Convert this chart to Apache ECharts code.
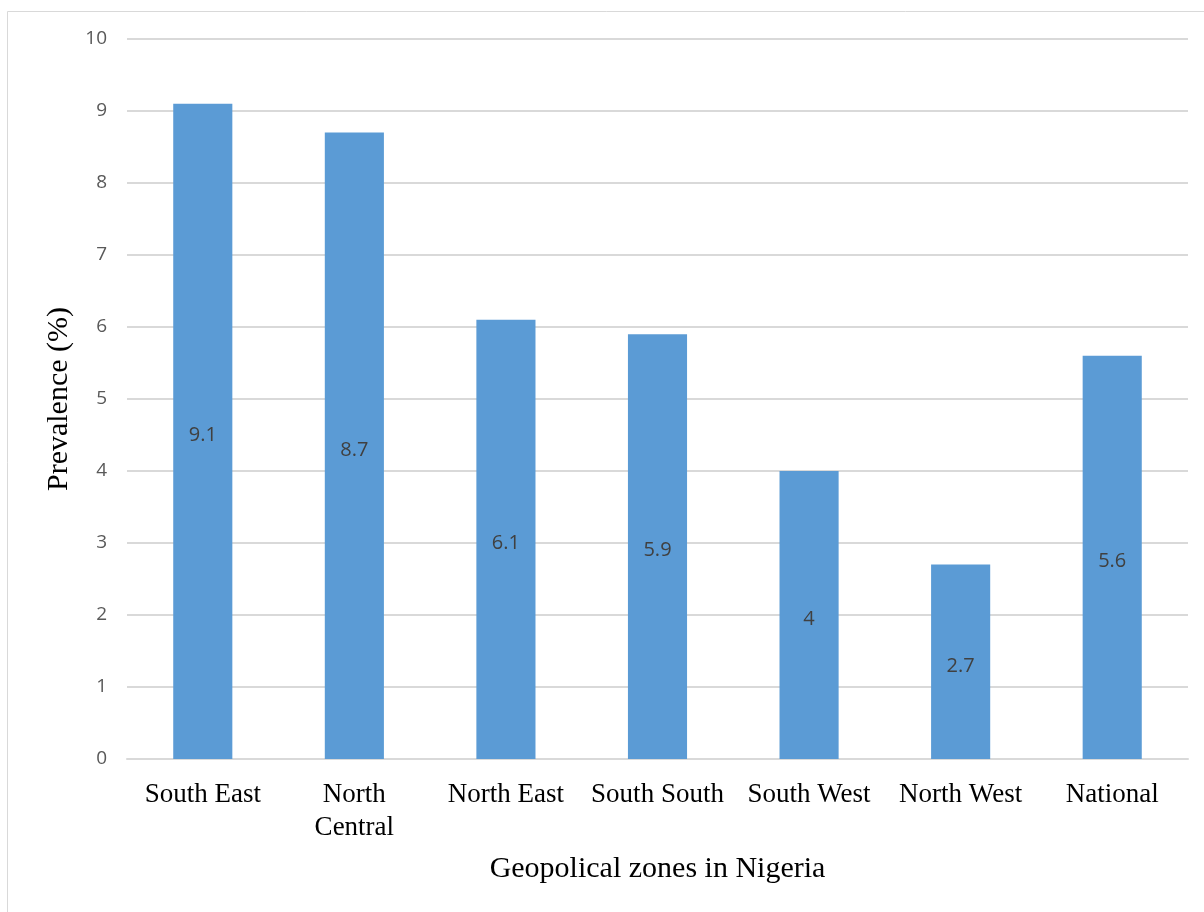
<!DOCTYPE html>
<html>
<head>
<meta charset="utf-8">
<script src="https://cdn.jsdelivr.net/npm/echarts@6/dist/echarts.min.js"></script>
<style>
  html, body { margin: 0; padding: 0; background: #ffffff; }
  #chart { width: 1204px; height: 912px; }
</style>
</head>
<body>
<div id="chart"></div>
<script>
// Prevalence by geopolitical zone
const zones = ['South East', 'North\nCentral', 'North East', 'South South', 'South West', 'North West', 'National'];
const prevalence = [9.1, 8.7, 6.1, 5.9, 4, 2.7, 5.6];
const yTicks = { min: 0, max: 10, interval: 1 };

const chart = echarts.init(document.getElementById('chart'));
chart.setOption({
  animation: false,
  backgroundColor: '#ffffff',
  graphic: [{
    type: 'rect',
    shape: { x: 7.5, y: 11.5, width: 1300, height: 1000 },
    style: { fill: 'none', stroke: '#D9D9D9', lineWidth: 1 },
    silent: true
  }],
  grid: { left: 127, right: 16, top: 39, bottom: 153 },
  xAxis: {
    type: 'category',
    data: zones,
    name: 'Geopolical zones in Nigeria',
    nameLocation: 'middle',
    nameGap: 95,
    nameTextStyle: { fontFamily: 'Liberation Serif', fontSize: 30, color: '#000000' },
    axisLine: { lineStyle: { color: '#D9D9D9', width: 2 } },
    axisTick: { show: false },
    axisLabel: {
      fontFamily: 'Liberation Serif', fontSize: 27, color: '#000000',
      margin: 19, lineHeight: 33, interval: 0
    }
  },
  yAxis: {
    type: 'value',
    min: yTicks.min, max: yTicks.max, interval: yTicks.interval,
    name: 'Prevalence (%)',
    nameLocation: 'middle',
    nameGap: 52,
    nameTextStyle: { fontFamily: 'Liberation Serif', fontSize: 30, color: '#000000' },
    axisLine: { show: false },
    axisTick: { show: false },
    axisLabel: { fontFamily: 'Open Sans', fontSize: 19, color: '#595959', margin: 20 },
    splitLine: { lineStyle: { color: '#D9D9D9', width: 2 } }
  },
  series: [{
    type: 'bar',
    data: prevalence,
    barWidth: '39%',
    itemStyle: { color: '#5B9BD5' },
    label: {
      show: true, position: 'inside', offset: [0, 4],
      fontFamily: 'Open Sans', fontSize: 20, color: '#404040'
    }
  }]
});
</script>
</body>
</html>
